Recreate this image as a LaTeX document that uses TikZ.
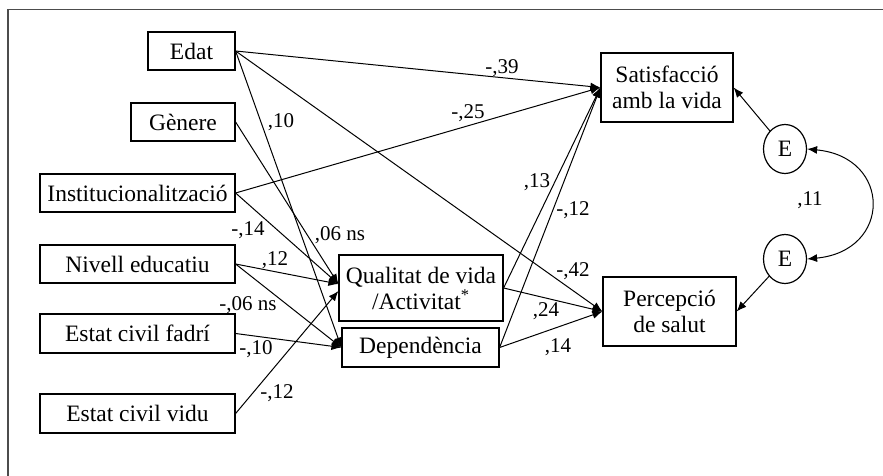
\documentclass[tikz,border=0pt]{standalone}
\usepackage{fontspec}
\setmainfont{Liberation Serif}
\usetikzlibrary{arrows.meta,calc,shapes.geometric}
\begin{document}
\begin{tikzpicture}[x=0.5pt,y=-0.5pt,
  box/.style={draw, line width=0.6pt, inner sep=0pt, font=\fontsize{11.75}{13}\selectfont, align=center},
  err/.style={draw, ellipse, line width=0.6pt, inner sep=0pt, minimum width=21.5pt, minimum height=24.5pt, font=\fontsize{11.75}{13}\selectfont},
  lab/.style={font=\fontsize{10.5}{12}\selectfont, inner sep=0pt},
  arr/.style={line width=0.5pt, -{Latex[length=5pt,width=4pt]}},
  frame/.style={draw=gray!60!black, line width=0.7pt}]
\useasboundingbox (0,0) rectangle (883,476);
\draw[frame] (8,476) -- (8,9.5) -- (883,9.5);

\node[box, minimum width=43.5pt, minimum height=19pt] (edat) at (191.5,51) {Edat};
\node[box, minimum width=52pt, minimum height=19pt] (gen) at (183,122) {Gènere};
\node[box, minimum width=97.5pt, minimum height=19pt] (inst) at (137.5,193) {Institucionalització};
\node[box, minimum width=97.5pt, minimum height=19pt] (niv) at (137.5,264) {Nivell educatiu};
\node[box, minimum width=97.5pt, minimum height=19.5pt] (fad) at (137.5,333.5) {Estat civil fadrí};
\node[box, minimum width=97.5pt, minimum height=19.5pt] (vid) at (137.5,413.5) {Estat civil vidu};
\node[box, minimum width=82pt, minimum height=33pt] (qual) at (421,288) {Qualitat de vida\\/Activitat\textsuperscript{*}};
\node[box, minimum width=78.5pt, minimum height=19.5pt] (dep) at (420.5,347.5) {Dependència};
\node[box, minimum width=66pt, minimum height=34.5pt] (sat) at (667,87.5) {Satisfacció\\amb la vida};
\node[box, minimum width=66.5pt, minimum height=34.5pt] (perc) at (669.5,311.5) {Percepció\\de salut};
\node[err] (e1) at (785,149) {E};
\node[err] (e2) at (785,259) {E};

\coordinate (qa) at ($(qual.west)+(0,-4)$);
\coordinate (qb) at ($(qual.west)+(0,3)$);

\draw[arr] (edat.east) -- (sat.west);
\draw[arr] (edat.east) -- (perc.west);
\draw[arr] (edat.east) -- (dep.west);
\draw[arr] (gen.east) -- (qa);
\draw[arr] (inst.east) -- (sat.west);
\draw[arr] (inst.east) -- (qa);
\draw[arr] (niv.east) -- (qa);
\draw[arr] (niv.east) -- (dep.west);
\draw[arr] (fad.east) -- (dep.west);
\draw[arr] (vid.east) -- (qb);
\draw[arr] (qual.east) -- (sat.west);
\draw[arr] (qual.east) -- (perc.west);
\draw[arr] (dep.east) -- (sat.west);
\draw[arr] (dep.east) -- (perc.west);
\draw[arr] (e1) -- (sat.east);
\draw[arr] (e2) -- (perc.east);
\draw[line width=0.5pt, {Latex[length=5pt,width=4pt]}-{Latex[length=5pt,width=4pt]}] (e1.east) .. controls +(85,8) and +(85,-8) .. (e2.east);

\node[lab] (l39) at (502,68) {-,39};
\node[lab] (l25) at (468,113) {-,25};
\node[lab] (l13) at (537,182) {,13};
\node[lab] (l12a) at (573,210) {-,12};
\node[lab] (l10) at (281,122) {,10};
\node[lab] (l14) at (248,230) {-,14};
\node[lab] (l06) at (340,235) {,06 ns};
\node[lab] (l12b) at (275,260) {,12};
\node[lab] (l06b) at (248,305) {-,06 ns};
\node[lab] (l10b) at (256,349) {-,10};
\node[lab] (l12c) at (277,393) {-,12};
\node[lab] (l42) at (573,271) {-,42};
\node[lab] (l24) at (546,311) {,24};
\node[lab] (l14b) at (558,347) {,14};
\node[lab] (l11) at (810,200) {,11};
\end{tikzpicture}
\end{document}
